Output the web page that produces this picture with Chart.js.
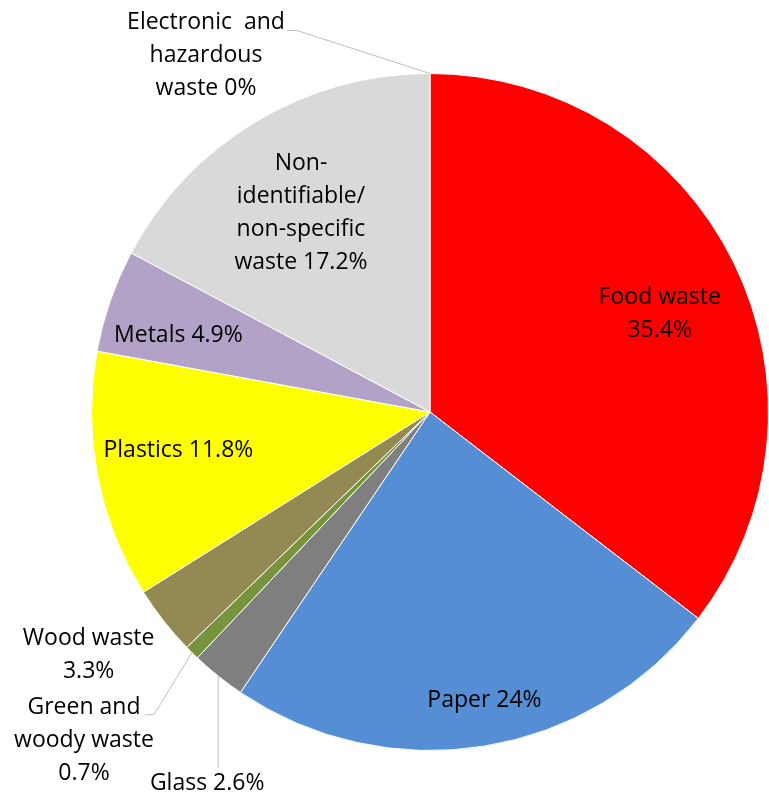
<!DOCTYPE html>
<html>
<head>
<meta charset="utf-8">
<script src="https://cdn.jsdelivr.net/npm/chart.js@4"></script>
<style>
  html, body { margin: 0; padding: 0; background: #fff; }
  #wrap { width: 769px; height: 800px; position: relative; }
</style>
</head>
<body>
<div id="wrap"><canvas id="myChart"></canvas></div>
<script>
// datos del grafico
const categories = ['Food waste', 'Paper', 'Glass', 'Green and woody waste', 'Wood waste',
    'Plastics', 'Metals', 'Non-identifiable/non-specific waste', 'Electronic and hazardous waste'];
const values = [35.4, 24, 2.6, 0.7, 3.3, 11.8, 4.9, 17.2, 0];
const colors = ['#FF0000', '#558ED5', '#7F7F7F', '#77933C', '#938953',
    '#FFFF00', '#B3A2C7', '#D9D9D9', '#C0504D'];
const labelLines = [
    ['Food waste', '35.4%'],
    ['Paper 24%'],
    ['Glass 2.6%'],
    ['Green and', 'woody waste', '0.7%'],
    ['Wood waste', '3.3%'],
    ['Plastics 11.8%'],
    ['Metals 4.9%'],
    ['Non-', 'identifiable/', 'non-specific', 'waste 17.2%'],
    ['Electronic  and', 'hazardous', 'waste 0%']
];

// donde va cada etiqueta: dentro (f = fraccion del radio) o fuera (desde el borde)
const placement = [
    { f: 0.74, dx: 5, dy: 13 },
    { f: 0.86, dx: 8, dy: 1 },
    { edge: true, dx: -11, dy: 107, leader: [[0, 92]] },
    { edge: true, dx: -108, dy: 88, leader: [[-38, 62], [-47, 62]] },
    { edge: true, dx: -75, dy: 34 },
    { f: 0.757, dx: 0, dy: -10 },
    { f: 0.787, dx: 0, dy: 11 },
    { f: 0.70, dx: -7, dy: 4 },
    { edge: true, dx: -224, dy: -18, leader: [[-133, -43], [-143, -43]] }
];

const FONT = '23px "Open Sans"';
const LINE_H = 33;

const pieLabels = {
    id: 'pieLabels',
    afterDatasetsDraw(chart) {
        const ctx = chart.ctx;
        const arcs = chart.getDatasetMeta(0).data;
        ctx.save();
        ctx.font = FONT;
        ctx.fillStyle = '#000';
        ctx.textAlign = 'center';
        ctx.textBaseline = 'middle';
        arcs.forEach((arc, i) => {
            const p = placement[i];
            const mid = (arc.startAngle + arc.endAngle) / 2;
            const r = p.edge ? arc.outerRadius : arc.outerRadius * p.f;
            const bx = arc.x + Math.cos(mid) * r;
            const by = arc.y + Math.sin(mid) * r;

            // linea guia
            if (p.leader) {
                ctx.strokeStyle = '#BFBFBF';
                ctx.lineWidth = 1;
                ctx.beginPath();
                ctx.moveTo(bx, by);
                p.leader.forEach(pt => ctx.lineTo(bx + pt[0], by + pt[1]));
                ctx.stroke();
            }

            const lines = labelLines[i];
            const cx = bx + p.dx;
            const cy = by + p.dy;
            const top = cy - (lines.length - 1) * LINE_H / 2;
            lines.forEach((t, k) => ctx.fillText(t, cx, top + k * LINE_H));
        });
        ctx.restore();
    }
};

const chartData = {
    labels: categories,
    datasets: [{
        data: values,
        backgroundColor: colors,
        borderColor: '#FFFFFF',
        borderWidth: 1
    }]
};

const config = {
    type: 'pie',
    data: chartData,
    options: {
        responsive: true,
        maintainAspectRatio: false,
        animation: false,
        layout: { padding: { left: 91, right: 0, top: 71, bottom: 47 } },
        plugins: {
            legend: { display: false },
            tooltip: { enabled: false }
        }
    },
    plugins: [pieLabels]
};

document.addEventListener('DOMContentLoaded', function () {
    new Chart(document.getElementById('myChart'), config);
});
</script>
</body>
</html>
